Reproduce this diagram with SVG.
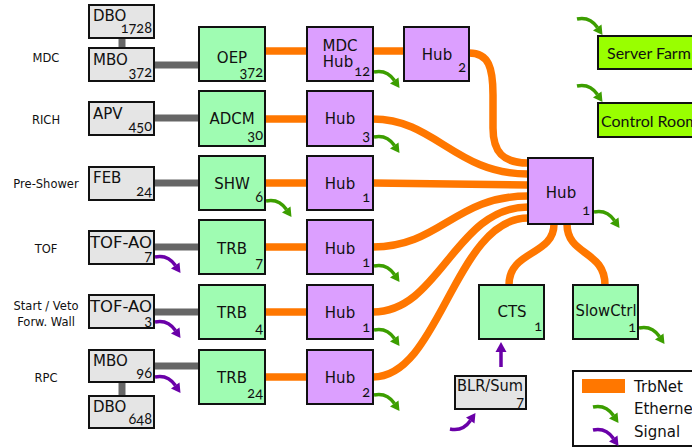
<svg xmlns="http://www.w3.org/2000/svg" xmlns:xlink="http://www.w3.org/1999/xlink" width="692" height="448" viewBox="0 0 692 448">
  <style>
    .box { stroke: #111; stroke-width: 2; }
    .fe { fill: #e5e5e5; }
    .tdc { fill: #9ffcb2; }
    .hub { fill: #dc9fff; }
    .ext { fill: #99ff00; }
    .lbl { font-family: "DejaVu Sans", sans-serif; font-size: 15px; fill: #111; }
    .mid { text-anchor: middle; }
    .num { font-family: "Lato", "Open Sans", sans-serif; font-size: 14.5px; fill: #111; text-anchor: end; font-variant-numeric: oldstyle-nums; font-feature-settings: "onum"; }
    .det { font-family: "DejaVu Sans", sans-serif; font-size: 11.5px; fill: #111; text-anchor: middle; }
    .ext-t { font-family: "Lato", "Open Sans", sans-serif; font-size: 16px; fill: #111; }
    .trb { fill: none; stroke: #ff7700; stroke-width: 7.5; }
    .cu { fill: none; stroke: #666; stroke-width: 7; }
    .eth { color: #3c9e00; }
    .sig { color: #6a00a8; }
  </style>
  <defs>
    <!-- curved arrow: starts heading right, bends down, tip at about (25,15) -->
    <g id="arrow">
      <path d="M0,0 C9,-2 16,2 20.5,8.5" fill="none" stroke="currentColor" stroke-width="3.5"/>
      <polygon points="25.5,16 16,11.5 24.5,5.5" fill="currentColor"/>
    </g>
  </defs>

  <!-- links -->
  <g id="connectors">
    <!-- copper between front-end boards and TDC boards -->
    <path class="cu" d="M122,38 V48"/>
    <path class="cu" d="M154,65 H199"/>
    <path class="cu" d="M154,118 H199"/>
    <path class="cu" d="M154,183 H199"/>
    <path class="cu" d="M154,247 H199"/>
    <path class="cu" d="M154,312 H199"/>
    <path class="cu" d="M154,366 H199"/>
    <path class="cu" d="M122,382 V396"/>

    <!-- TrbNet -->
    <path class="trb" d="M265,51 H307"/>
    <path class="trb" d="M373,51 H404"/>
    <path class="trb" d="M265,119 H307"/>
    <path class="trb" d="M265,183 H307"/>
    <path class="trb" d="M265,247 H307"/>
    <path class="trb" d="M265,312 H307"/>
    <path class="trb" d="M265,377 H307"/>

    <path class="trb" d="M469,53 C489,53 493,68 493,95 L493,128 C493,152 503,163 528,163"/>
    <path class="trb" d="M373,119 C435,119 455,174 528,174"/>
    <path class="trb" d="M373,183 L528,185"/>
    <path class="trb" d="M373,247 C440,247 455,196 528,196"/>
    <path class="trb" d="M373,312 C440,312 455,207 528,207"/>
    <path class="trb" d="M373,377 C440,377 455,218 528,218"/>
    <path class="trb" d="M554,224 C554,256 509,250 509,285"/>
    <path class="trb" d="M567,224 C567,256 605,250 605,285"/>

    <!-- Ethernet -->
    <use href="#arrow" class="eth" transform="translate(266,201)"/>
    <use href="#arrow" class="eth" transform="translate(374,72)"/>
    <use href="#arrow" class="eth" transform="translate(374,137)"/>
    <use href="#arrow" class="eth" transform="translate(374,266)"/>
    <use href="#arrow" class="eth" transform="translate(374,330)"/>
    <use href="#arrow" class="eth" transform="translate(374,395)"/>
    <use href="#arrow" class="eth" transform="translate(594,212)"/>
    <use href="#arrow" class="eth" transform="translate(639,328)"/>
    <use href="#arrow" class="eth" transform="translate(577,19)"/>
    <use href="#arrow" class="eth" transform="translate(577,86)"/>

    <!-- trigger signals -->
    <use href="#arrow" class="sig" transform="translate(155,257)"/>
    <use href="#arrow" class="sig" transform="translate(155,322)"/>
    <use href="#arrow" class="sig" transform="translate(155,377)"/>
    <use href="#arrow" class="sig" transform="translate(450,429) scale(1,-1)"/>
    <g class="sig">
      <path d="M501,367 V351" stroke="currentColor" stroke-width="3.5"/>
      <polygon points="501,342 495.5,352 506.5,352" fill="currentColor"/>
    </g>
  </g>

  <!-- detector names -->
  <g id="detectors">
    <text class="det" x="46" y="62">MDC</text>
    <text class="det" x="46" y="124">RICH</text>
    <text class="det" x="46" y="188">Pre-Shower</text>
    <text class="det" x="46" y="253">TOF</text>
    <text class="det" x="46" y="310">Start / Veto</text>
    <text class="det" x="46" y="326">Forw. Wall</text>
    <text class="det" x="46" y="382">RPC</text>
  </g>

  <!-- front-end boards -->
  <g id="dbo-mdc"><rect class="box fe" x="89" y="5" width="65" height="33"/><text class="lbl" x="93" y="21">DBO</text><text class="num" x="152" y="33">1728</text></g>
  <g id="mbo-mdc"><rect class="box fe" x="89" y="48" width="65" height="33"/><text class="lbl" x="93" y="65">MBO</text><text class="num" x="152" y="77">372</text></g>
  <g id="apv"><rect class="box fe" x="89" y="102" width="65" height="33"/><text class="lbl" x="93" y="119">APV</text><text class="num" x="152" y="131">450</text></g>
  <g id="feb"><rect class="box fe" x="89" y="167" width="65" height="33"/><text class="lbl" x="93" y="183">FEB</text><text class="num" x="152" y="196">24</text></g>
  <g id="tofao-tof"><rect class="box fe" x="89" y="231" width="65" height="33"/><text class="lbl" x="90" y="248" textLength="62" lengthAdjust="spacingAndGlyphs">TOF-AO</text><text class="num" x="152" y="261">7</text></g>
  <g id="tofao-start"><rect class="box fe" x="89" y="295" width="65" height="33"/><text class="lbl" x="90" y="312" textLength="62" lengthAdjust="spacingAndGlyphs">TOF-AO</text><text class="num" x="152" y="325">3</text></g>
  <g id="mbo-rpc"><rect class="box fe" x="89" y="350" width="65" height="32"/><text class="lbl" x="93" y="366">MBO</text><text class="num" x="152" y="378">96</text></g>
  <g id="dbo-rpc"><rect class="box fe" x="89" y="396" width="65" height="32"/><text class="lbl" x="93" y="412">DBO</text><text class="num" x="152" y="424">648</text></g>

  <!-- readout / TDC boards -->
  <g id="oep"><rect class="box tdc" x="199" y="27" width="66" height="54"/><text class="lbl mid" x="232" y="63">OEP</text><text class="num" x="263" y="77">372</text></g>
  <g id="adcm"><rect class="box tdc" x="199" y="91" width="66" height="55"/><text class="lbl mid" x="232" y="124">ADCM</text><text class="num" x="263" y="140">30</text></g>
  <g id="shw"><rect class="box tdc" x="199" y="156" width="66" height="54"/><text class="lbl mid" x="232" y="189">SHW</text><text class="num" x="263" y="202">6</text></g>
  <g id="trb-tof"><rect class="box tdc" x="199" y="220" width="66" height="54"/><text class="lbl mid" x="232" y="254">TRB</text><text class="num" x="263" y="268">7</text></g>
  <g id="trb-start"><rect class="box tdc" x="199" y="285" width="66" height="54"/><text class="lbl mid" x="232" y="318">TRB</text><text class="num" x="263" y="333">4</text></g>
  <g id="trb-rpc"><rect class="box tdc" x="199" y="350" width="66" height="54"/><text class="lbl mid" x="232" y="383">TRB</text><text class="num" x="263" y="398">24</text></g>

  <!-- hubs -->
  <g id="hub-mdc"><rect class="box hub" x="307" y="27" width="66" height="54"/><text class="lbl mid" x="340" y="51" font-size="14.5">MDC</text><text class="lbl mid" x="338" y="67" font-size="14.5">Hub</text><text class="num" x="370" y="76">12</text></g>
  <g id="hub-rich"><rect class="box hub" x="307" y="91" width="66" height="55"/><text class="lbl mid" x="340" y="124">Hub</text><text class="num" x="370" y="140">3</text></g>
  <g id="hub-shw"><rect class="box hub" x="307" y="156" width="66" height="54"/><text class="lbl mid" x="340" y="189">Hub</text><text class="num" x="370" y="202">1</text></g>
  <g id="hub-tof"><rect class="box hub" x="307" y="220" width="66" height="54"/><text class="lbl mid" x="340" y="254">Hub</text><text class="num" x="370" y="267">1</text></g>
  <g id="hub-start"><rect class="box hub" x="307" y="285" width="66" height="54"/><text class="lbl mid" x="340" y="318">Hub</text><text class="num" x="370" y="332">1</text></g>
  <g id="hub-rpc"><rect class="box hub" x="307" y="350" width="66" height="54"/><text class="lbl mid" x="340" y="383">Hub</text><text class="num" x="370" y="397">2</text></g>
  <g id="hub-mdc2"><rect class="box hub" x="404" y="27" width="65" height="54"/><text class="lbl mid" x="437" y="60">Hub</text><text class="num" x="466" y="72">2</text></g>
  <g id="hub-central"><rect class="box hub" x="528" y="158" width="65" height="66"/><text class="lbl mid" x="561" y="198">Hub</text><text class="num" x="590" y="215">1</text></g>

  <!-- central trigger and slow control -->
  <g id="cts"><rect class="box tdc" x="479" y="285" width="65" height="54"/><text class="lbl mid" x="512" y="317">CTS</text><text class="num" x="542" y="331">1</text></g>
  <g id="slowctrl"><rect class="box tdc" x="573" y="285" width="65" height="54"/><text class="lbl mid" x="606" y="316" textLength="61" lengthAdjust="spacingAndGlyphs">SlowCtrl</text><text class="num" x="636" y="332">1</text></g>
  <g id="blr-sum"><rect class="box fe" x="455" y="376" width="71" height="33"/><text class="lbl" x="457" y="391" textLength="66" lengthAdjust="spacingAndGlyphs">BLR/Sum</text><text class="num" x="524" y="407">7</text></g>

  <!-- external destinations -->
  <g id="server-farm"><rect class="box ext" x="598" y="36" width="110" height="33"/><text class="ext-t" x="607" y="59">Server Farm</text></g>
  <g id="control-room"><rect class="box ext" x="598" y="103" width="110" height="34"/><text class="ext-t" x="601" y="127">Control Room</text></g>

  <!-- legend -->
  <g id="legend">
    <rect x="573" y="371" width="130" height="75" fill="#fff" stroke="#111" stroke-width="2"/>
    <rect x="582" y="379" width="43" height="14" fill="#ff7700"/>
    <text class="lbl" x="634" y="392" font-size="14.5">TrbNet</text>
    <use href="#arrow" class="eth" transform="translate(593,407)"/>
    <text class="lbl" x="634" y="414" font-size="14.5">Ethernet</text>
    <use href="#arrow" class="sig" transform="translate(593,430)"/>
    <text class="lbl" x="634" y="437" font-size="14.5">Signal</text>
  </g>
</svg>
